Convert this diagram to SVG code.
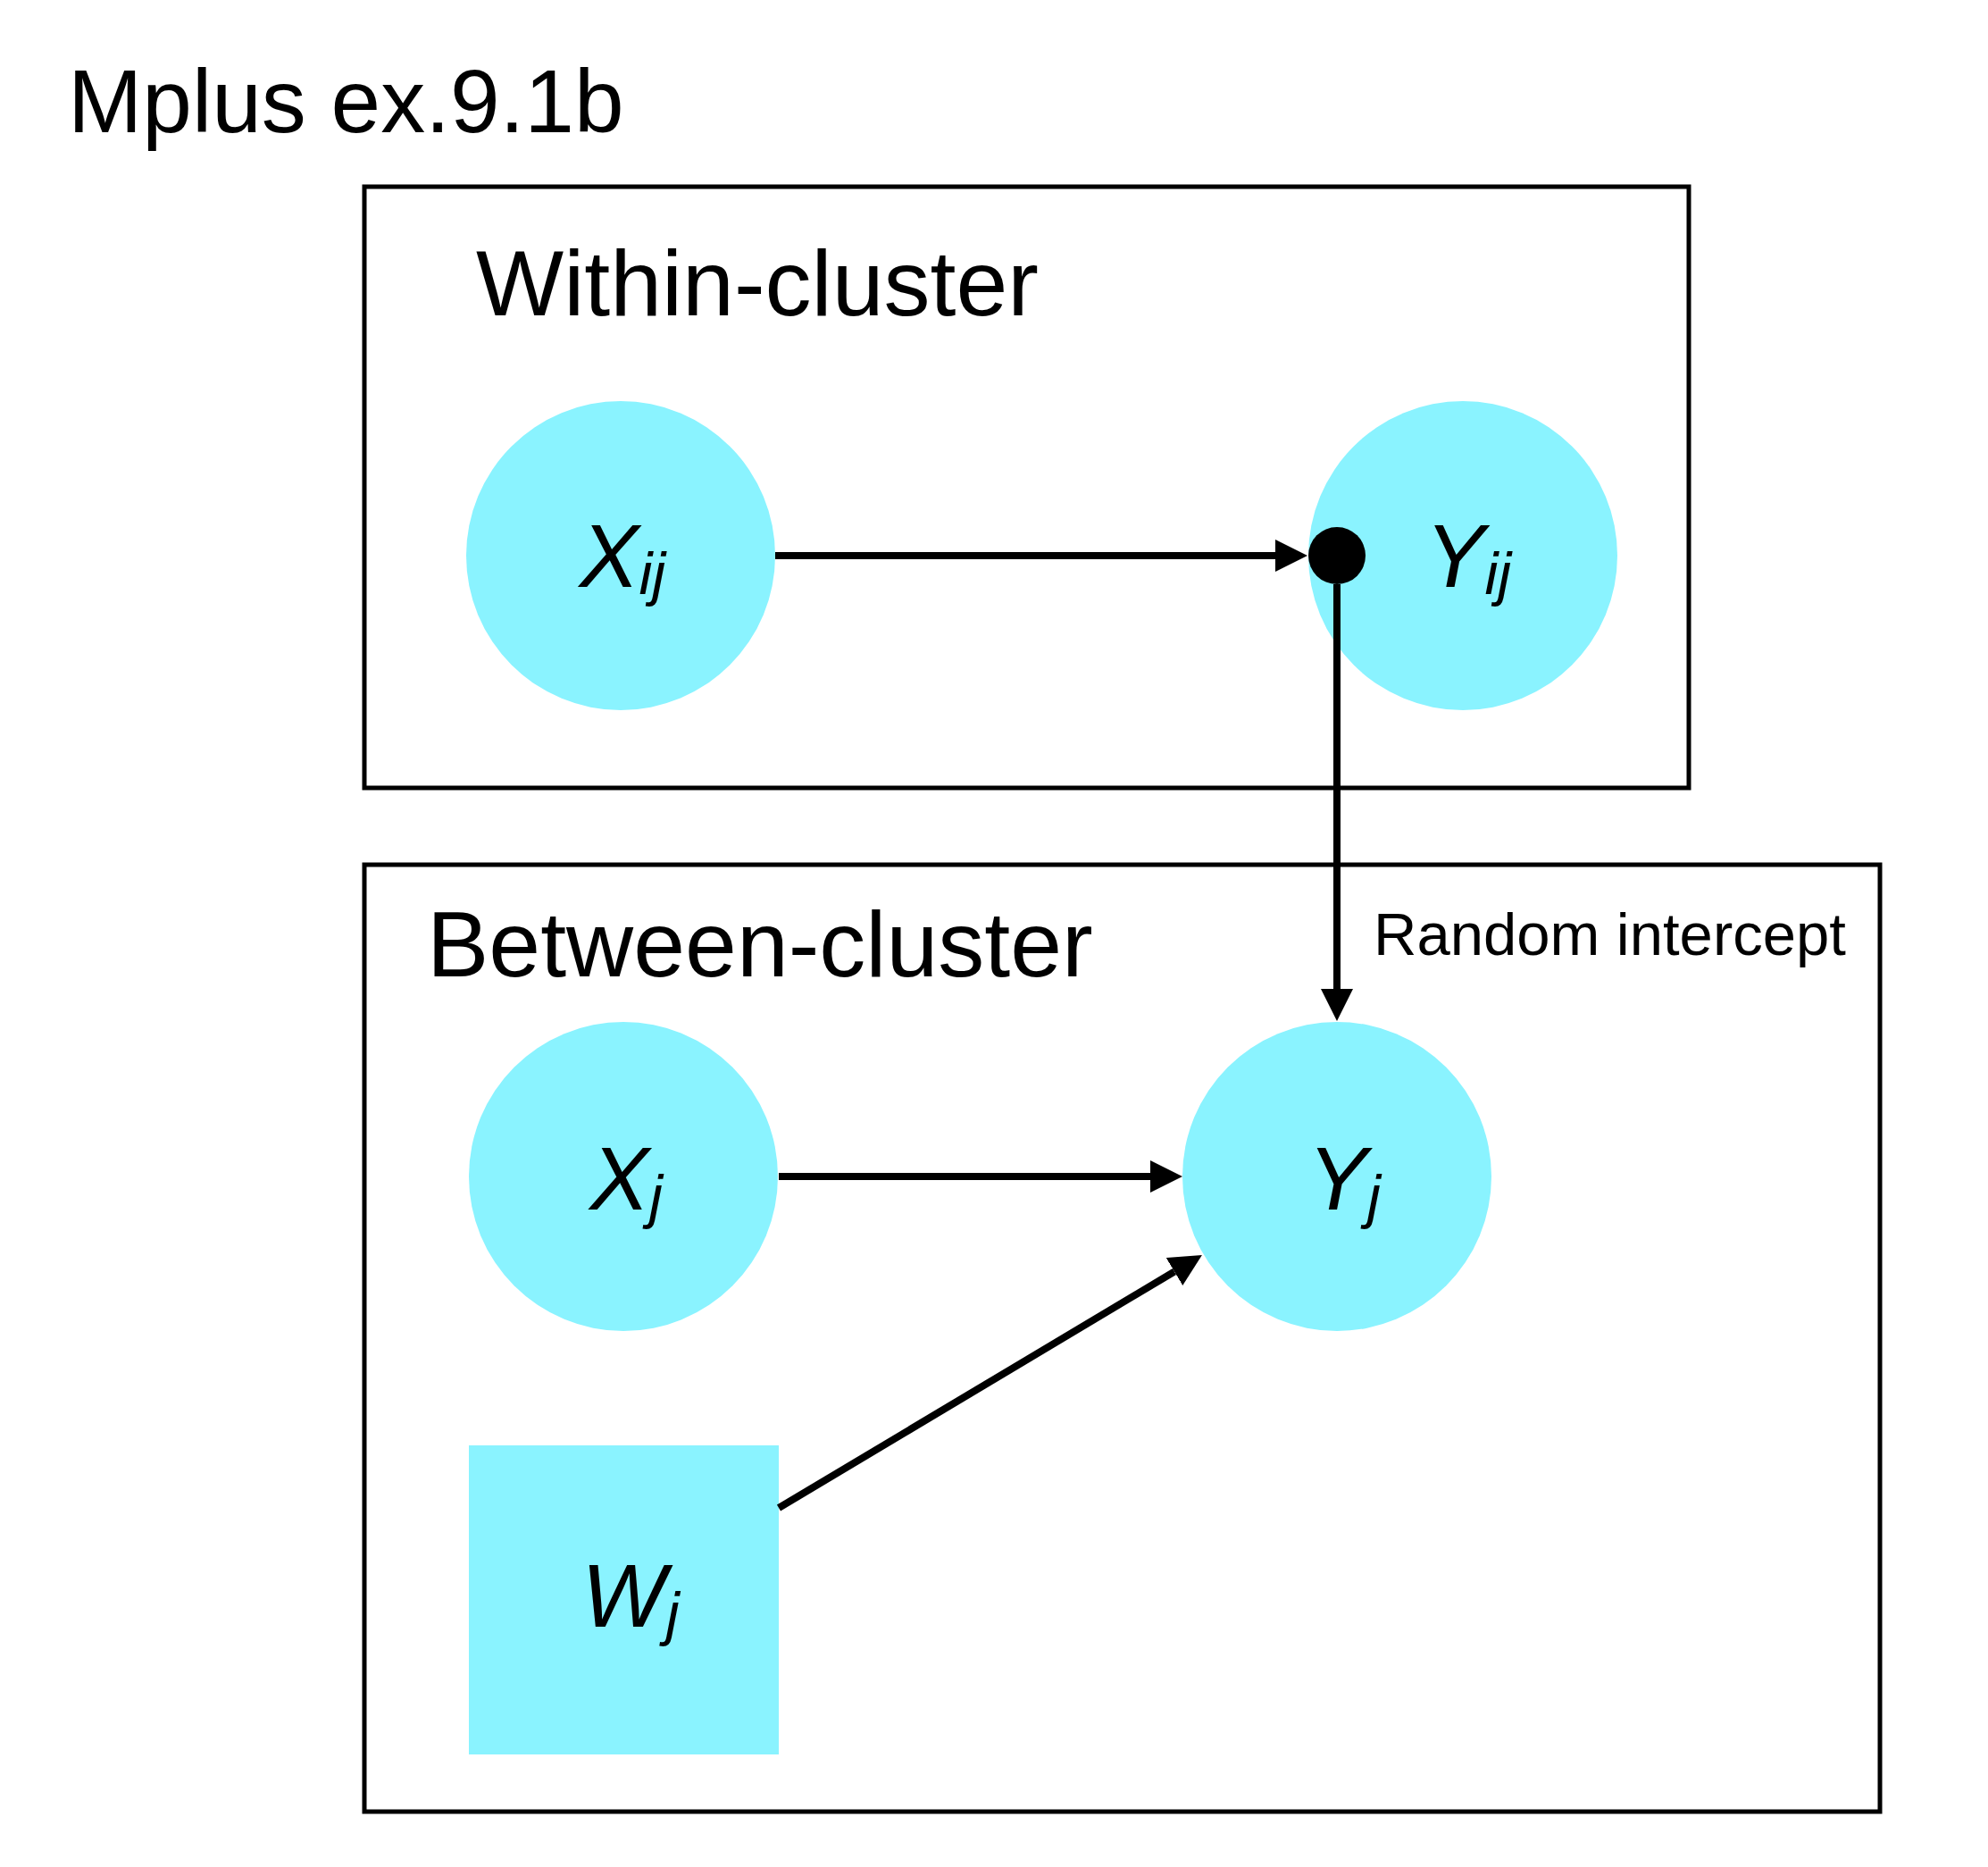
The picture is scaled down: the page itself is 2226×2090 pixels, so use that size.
<svg xmlns="http://www.w3.org/2000/svg" width="2226" height="2090" viewBox="0 0 2226 2090">
<style>
text { font-family: "Liberation Sans", Arial, Helvetica, sans-serif; fill: #000; }
.title { font-size: 100px; }
.cluster { font-size: 104px; }
.small { font-size: 67px; }
.lbl { font-size: 100px; font-style: italic; text-anchor: middle; }
.sub { font-size: 67px; }
.box { fill: none; stroke: #000; stroke-width: 5; }
.node { fill: #8af3ff; }
.edge { fill: none; stroke: #000; stroke-width: 8; }
</style>
<defs>
<marker id="arr" viewBox="0 0 36 36" refX="0" refY="18" markerWidth="36" markerHeight="36" markerUnits="userSpaceOnUse" orient="auto">
<path d="M0,0 L36,18 L0,36 z" fill="#000"/>
</marker>
</defs>
<rect width="2226" height="2090" fill="#fff"/>
<text class="title" x="76" y="148">Mplus ex.9.1b</text>
<g id="within">
<rect class="box" x="408" y="209" width="1483" height="673"/>
<text class="cluster" x="533" y="353">Within-cluster</text>
</g>
<g id="between">
<rect class="box" x="408" y="968" width="1697" height="1060"/>
<text class="cluster" x="478" y="1093">Between-cluster</text>
</g>
<g id="Xij">
<circle class="node" cx="695" cy="622" r="173"/>
<text class="lbl" x="697" y="657">X<tspan class="sub" dy="8">ij</tspan></text>
</g>
<g id="Yij">
<circle class="node" cx="1638" cy="622" r="173"/>
<text class="lbl" x="1644" y="657">Y<tspan class="sub" dy="8">ij</tspan></text>
</g>
<g id="Xj">
<circle class="node" cx="698" cy="1317" r="173"/>
<text class="lbl" x="701" y="1354">X<tspan class="sub" dy="8">j</tspan></text>
</g>
<g id="Yj">
<circle class="node" cx="1497" cy="1317" r="173"/>
<text class="lbl" x="1505" y="1354">Y<tspan class="sub" dy="8">j</tspan></text>
</g>
<g id="Wj">
<rect class="node" x="525" y="1618" width="347" height="346"/>
<text class="lbl" x="706" y="1821">W<tspan class="sub" dy="8">j</tspan></text>
</g>
<g id="connectors">
<path class="edge" d="M868,622 L1428,622" marker-end="url(#arr)"/>
<path class="edge" d="M1497,654 L1497,1107" marker-end="url(#arr)"/>
<circle cx="1497" cy="622" r="32" fill="#000"/>
<path class="edge" d="M872,1317 L1288,1317" marker-end="url(#arr)"/>
<path class="edge" d="M872,1688 L1315,1423.5" marker-end="url(#arr)"/>
<text class="small" x="1538" y="1069">Random intercept</text>
</g>
</svg>
